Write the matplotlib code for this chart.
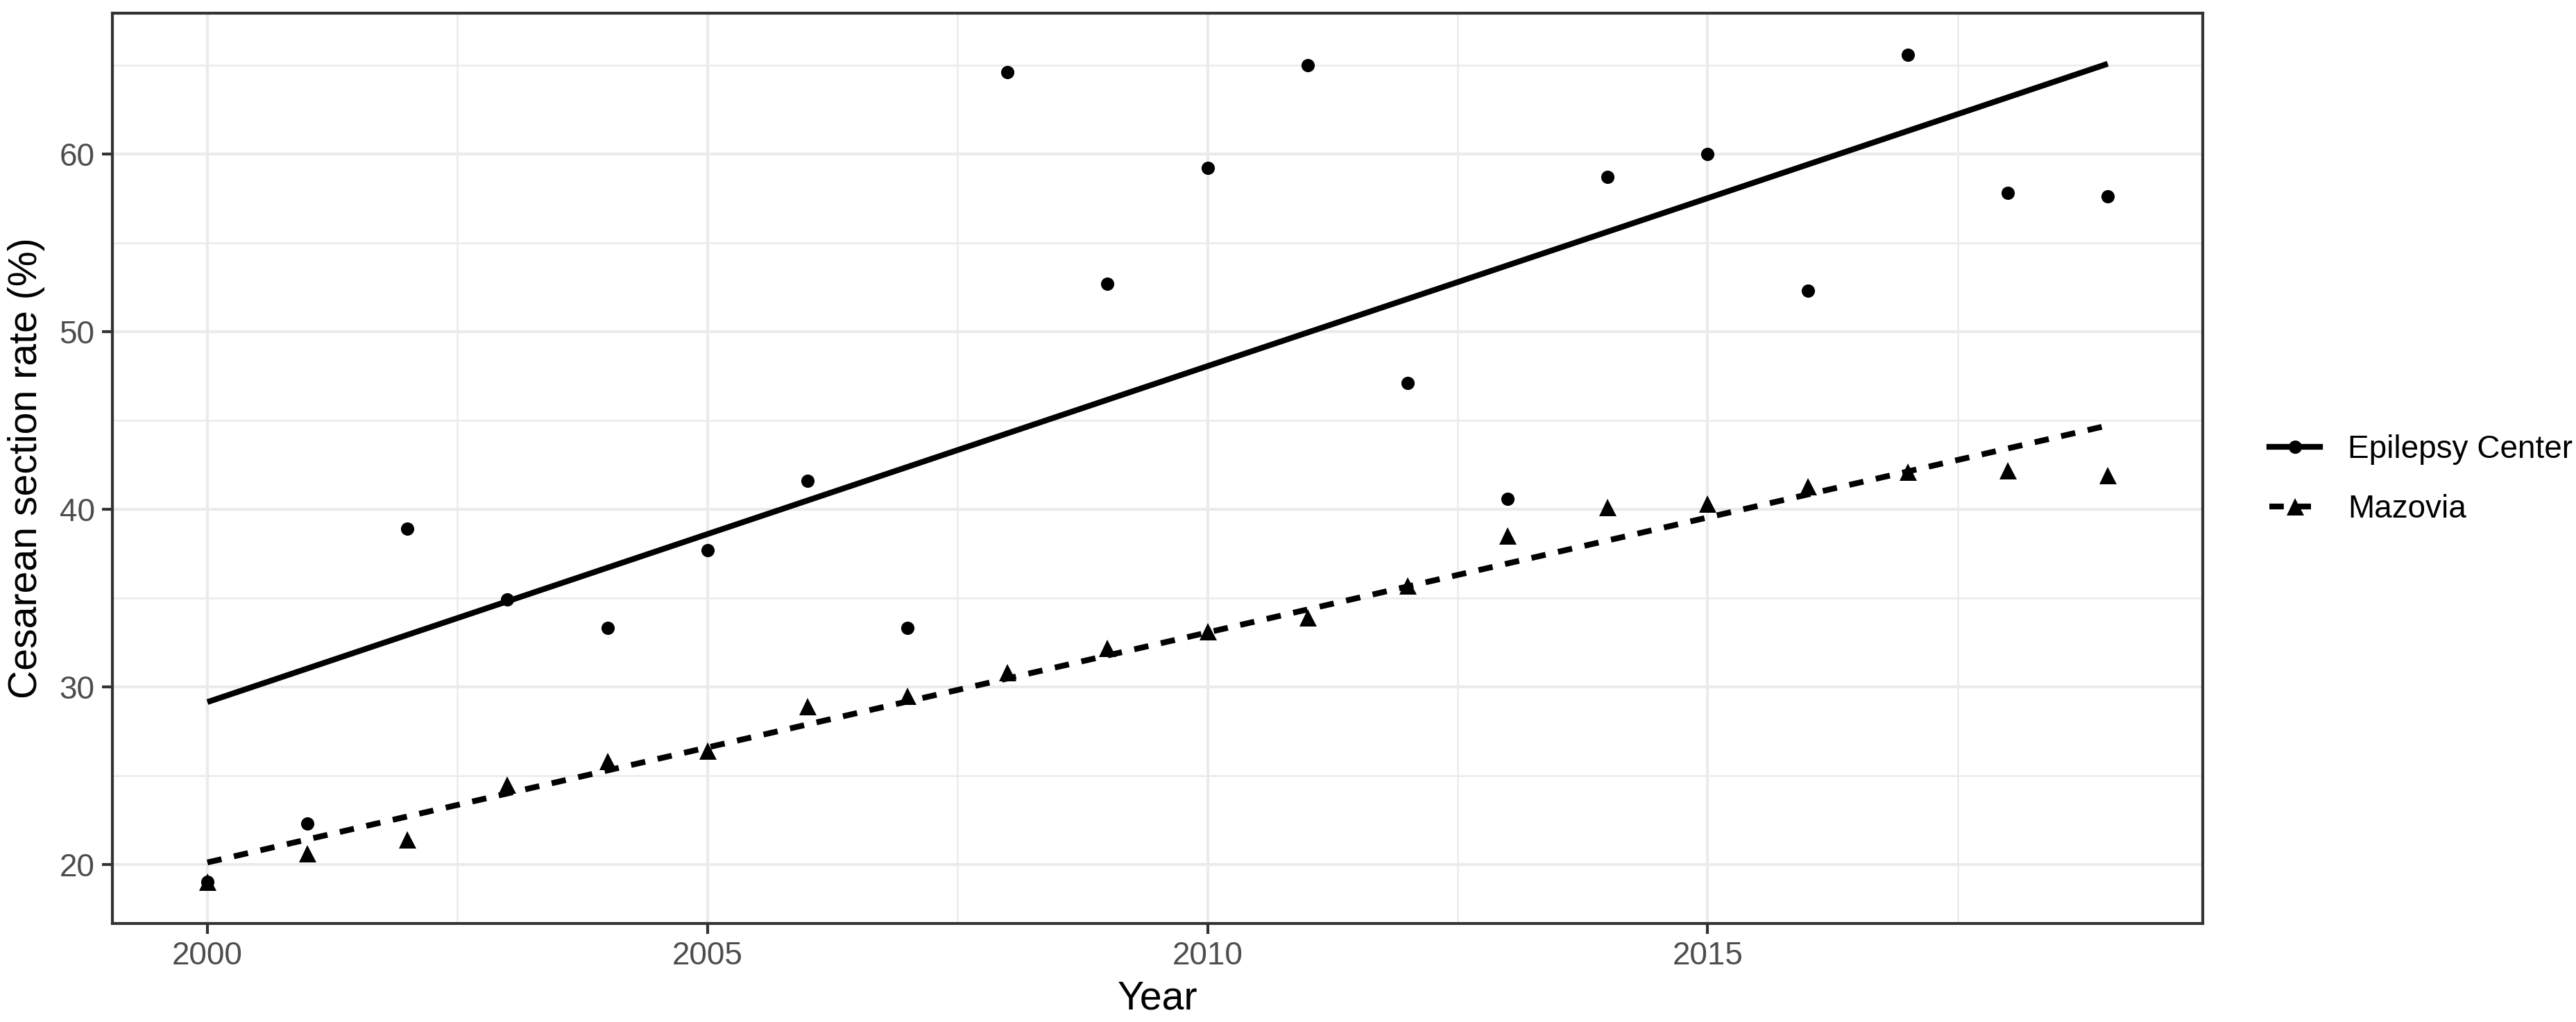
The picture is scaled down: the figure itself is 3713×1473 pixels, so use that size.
"""Cesarean section rate: Epilepsy Center vs Mazovia, with linear trends
"""
import numpy as np
import matplotlib
matplotlib.use("Agg")
import matplotlib.pyplot as plt
from matplotlib.lines import Line2D

plt.rcParams['font.family'] = ['Liberation Sans', 'DejaVu Sans']

years = np.arange(2000, 2020)
epilepsy = [19.0, 22.3, 38.9, 34.9, 33.3, 37.7, 41.6, 33.3, 64.6, 52.7,
            59.2, 65.0, 47.1, 40.6, 58.7, 60.0, 52.3, 65.6, 57.8, 57.6]
mazovia = [19.0, 20.6, 21.4, 24.5, 25.8, 26.4, 28.9, 29.5, 30.8, 32.2,
           33.1, 33.9, 35.7, 38.5, 40.1, 40.3, 41.3, 42.1, 42.2, 41.9]
labels = ['Epilepsy Center', 'Mazovia']
x_ticks = [2000, 2005, 2010, 2015]
y_ticks = [20, 30, 40, 50, 60]

W, H, DPI = 3713, 1473, 300
fig = plt.figure(figsize=(W / DPI, H / DPI), dpi=DPI)
ax = fig.add_axes([162 / W, 1 - 1331 / H, (3175 - 162) / W, (1331 - 19) / H])

grid_col = '#EBEBEB'
dark = '#333333'

# linear fits (like geom_smooth(method='lm'))
styles = [dict(marker='o', ms=4.6, ls='-'),
          dict(marker='^', ms=6.0, ls=(0, (2.5, 2.2)))]
fits = []
for vals, st in zip([epilepsy, mazovia], styles):
    k, b = np.polyfit(years, vals, 1)
    xs = np.array([years[0], years[-1]])
    fits.append(k * xs + b)
    ax.plot(years, vals, st['marker'], ms=st['ms'], color='black',
            markeredgewidth=0, zorder=3)
    ax.plot(xs, k * xs + b, ls=st['ls'], color='black', lw=2.0,
            solid_capstyle='butt', dash_capstyle='butt', zorder=4)

# axis limits with 5% expansion
ally = np.concatenate([epilepsy, mazovia] + fits)
yr = ally.max() - ally.min()
ax.set_ylim(ally.min() - 0.05 * yr, ally.max() + 0.05 * yr)
xr = years[-1] - years[0]
ax.set_xlim(years[0] - 0.05 * xr, years[-1] + 0.05 * xr)

ax.set_xticks(x_ticks)
ax.set_yticks(y_ticks)
ax.set_xticks([2002.5, 2007.5, 2012.5, 2017.5], minor=True)
ax.set_yticks([25, 35, 45, 55, 65], minor=True)
ax.grid(which='major', color=grid_col, lw=1.0, zorder=0)
ax.grid(which='minor', color=grid_col, lw=0.6, zorder=0)
ax.set_axisbelow(True)

ax.tick_params(which='major', length=3.6, width=1.0, color=dark,
               labelsize=11, labelcolor='#4D4D4D', pad=2.5)
ax.tick_params(which='minor', length=0)
for s in ax.spines.values():
    s.set_color(dark)
    s.set_linewidth(1.0)

ax.set_xlabel('Year', fontsize=13.75, labelpad=3)
ax.set_ylabel('Cesarean section rate (%)', fontsize=13.75, labelpad=5)

handles = [Line2D([], [], color='black', lw=2.0, ls=st['ls'],
                  marker=st['marker'], ms=st['ms'], markeredgewidth=0)
           for st in styles]
fig.legend(handles, labels, loc='center left',
           bbox_to_anchor=(3271 / W, 1 - 691 / H), bbox_transform=fig.transFigure,
           frameon=False, fontsize=11, handlelength=1.6, handletextpad=0.87,
           labelspacing=0.9, borderpad=0, borderaxespad=0)

fig.savefig('out.png', dpi=DPI)
